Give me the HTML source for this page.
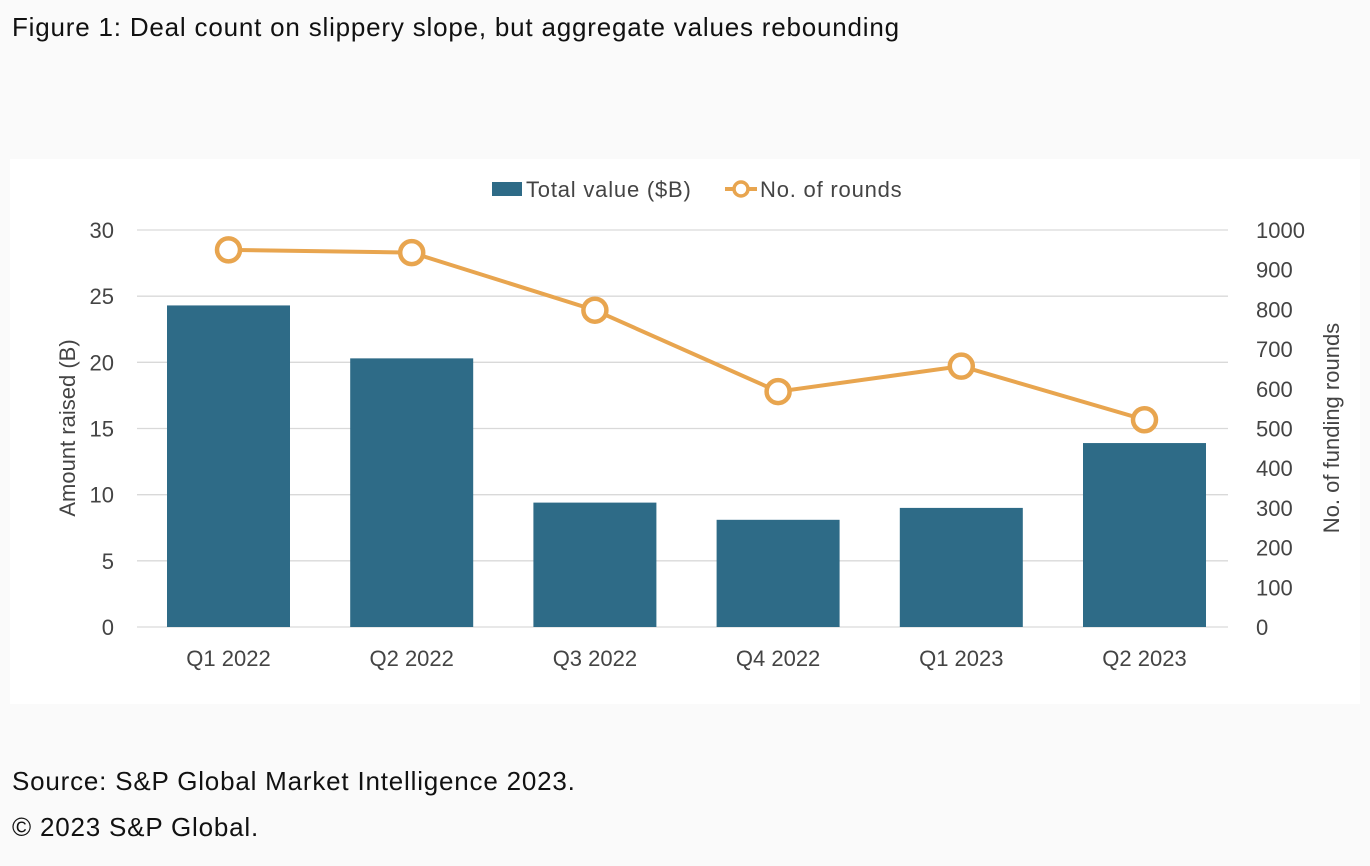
<!DOCTYPE html>
<html><head><meta charset="utf-8"><style>
body{margin:0;width:1370px;height:866px;background:#fafafa;font-family:"Liberation Sans",sans-serif;overflow:hidden;position:relative}
.t{position:absolute;color:#111;font-size:26px;letter-spacing:0.8px}
</style></head><body>
<div class="t" style="left:12px;top:12px">Figure 1: Deal count on slippery slope, but aggregate values rebounding</div>
<svg id="c" width="1370" height="866" style="position:absolute;left:0;top:0">
<rect x="10" y="159" width="1350" height="545" fill="#fff"/>
</svg>
<div class="t" style="left:12px;top:766px">Source: S&amp;P Global Market Intelligence 2023.</div>
<div class="t" style="left:12px;top:812px">© 2023 S&amp;P Global.</div>
<script>
const categories=["Q1 2022","Q2 2022","Q3 2022","Q4 2022","Q1 2023","Q2 2023"];
const totalValue=[24.3,20.3,9.4,8.1,9.0,13.9];
const rounds=[950,943,798,593,657,522];
const leftTicks=[0,5,10,15,20,25,30];
const rightTicks=[0,100,200,300,400,500,600,700,800,900,1000];
const NS="http://www.w3.org/2000/svg",svg=document.getElementById('c');
const x0=137,x1=1228,yb=627,yt=230;
const yL=v=>yb-(v/30)*(yb-yt), yR=v=>yb-(v/1000)*(yb-yt);
const step=183.2, xc=i=>228.5+step*i;
function mk(t,a,txt){const e=document.createElementNS(NS,t);for(const k in a)e.setAttribute(k,a[k]);if(txt!=null)e.textContent=txt;svg.appendChild(e);return e;}
leftTicks.forEach(v=>{
 const g=mk('line',{x1:x0,x2:x1,y1:yL(v),y2:yL(v),stroke:'#d9d9d9','stroke-width':1.3});
 
 
 const t=mk('text',{x:114,y:yL(v)+8,'text-anchor':'end','font-size':22,fill:'#444'},v);
 
 
});
rightTicks.forEach(v=>{
 const t=mk('text',{x:1256,y:yR(v)+8,'font-size':22,fill:'#444'},v);
 
 
});
const bw=123;
totalValue.forEach((v,i)=>{
 const r=mk('rect',{x:xc(i)-bw/2,y:yL(v),width:bw,height:yb-yL(v),fill:'#2e6b87'});
 
 
 const t=mk('text',{x:xc(i),y:666,'text-anchor':'middle','font-size':22,fill:'#444'},categories[i]);
 
 
});
const pl=mk('polyline',{points:rounds.map((v,i)=>xc(i)+','+yR(v)).join(' '),fill:'none',stroke:'#e8a54f','stroke-width':4});


rounds.forEach((v,i)=>{
 const c=mk('circle',{cx:xc(i),cy:yR(v),r:11.5,fill:'#fff',stroke:'#e8a54f','stroke-width':4.5});
 
 
});
const a1=mk('text',{transform:'translate(75,428) rotate(-90)','text-anchor':'middle','font-size':22,fill:'#444'},'Amount raised (B)');


const a2=mk('text',{transform:'translate(1339,428) rotate(-90)','text-anchor':'middle','font-size':22,fill:'#444'},'No. of funding rounds');


const l1=mk('rect',{x:492,y:182,width:30,height:14,fill:'#2e6b87'});


const l2=mk('text',{x:526,y:197,'font-size':22,fill:'#444','letter-spacing':'0.8'},'Total value ($B)');


const l3=mk('line',{x1:725,x2:757,y1:189,y2:189,stroke:'#e8a54f','stroke-width':4});


const l4=mk('circle',{cx:741,cy:189,r:7,fill:'#fff',stroke:'#e8a54f','stroke-width':3.5});


const l5=mk('text',{x:760,y:197,'font-size':22,fill:'#444','letter-spacing':'0.8'},'No. of rounds');


</script>
</body></html>
